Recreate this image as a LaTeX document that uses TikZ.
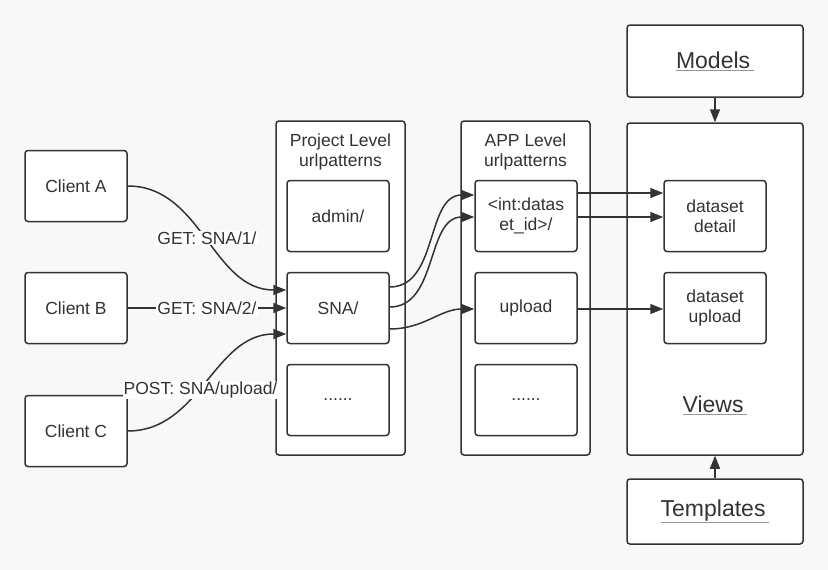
\documentclass[tikz,border=0pt]{standalone}
\usepackage{fontspec}
\setmainfont{Liberation Sans}
\usetikzlibrary{arrows.meta}
\definecolor{bgcol}{RGB}{248,248,248}
\definecolor{inkcol}{RGB}{51,51,51}
\definecolor{ulcol}{RGB}{150,150,150}
\newcommand{\ulword}[1]{{\color{ulcol}\underline{\color{inkcol}#1\,}}}
\begin{document}
\begin{tikzpicture}[x=1pt, y=-1pt,
  font=\fontsize{17.5}{20}\selectfont, text=inkcol,
  >={Triangle[length=13pt,width=10pt]},
  box/.style={draw=inkcol, line width=1.5pt, fill=white, rounded corners=3pt, align=center, minimum width=102pt, minimum height=71pt},
  frame/.style={box, minimum width=129pt, minimum height=334pt},
  big/.style={box, minimum width=176pt, font=\fontsize{23}{26}\selectfont},
  link/.style={->, draw=inkcol, line width=1.5pt},
  tag/.style={fill=white, inner sep=1pt}]
\fill[bgcol] (0,0) rectangle (828,570);
\useasboundingbox (0,0) rectangle (828,570);
% clients
\node[box] (ca) at (76,186) {Client A};
\node[box] (cb) at (76,308) {Client B};
\node[box] (cc) at (76,431) {Client C};
% project level
\node[frame] (proj) at (340.5,288) {};
\node[align=center] (ptitle) at (340.5,152) {Project Level\\urlpatterns};
\node[box] (admin) at (338,216) {admin/};
\node[box] (sna) at (338,308) {SNA/};
\node[box] (pdots) at (338,400) {......};
% app level
\node[frame] (app) at (525.5,288) {};
\node[align=center] (atitle) at (525.5,152) {APP Level\\urlpatterns};
\node[box] (dsid) at (526,216) {<int:datas\\et\_id>/};
\node[box] (upl) at (526,308) {upload};
\node[box] (adots) at (526,400) {......};
% views
\node[big, minimum height=332pt] (views) at (715,289) {};
\node[box] (detail) at (715,216) {dataset\\detail};
\node[box] (dupl) at (715,308) {dataset\\upload};
\node[font=\fontsize{23}{26}\selectfont] (vlabel) at (715,405) {\ulword{Views}};
\node[big, minimum height=72pt] (models) at (715,61) {\ulword{Models}};
\node[big, minimum height=65pt] (tmpl) at (715,511.5) {\ulword{Templates}};
% requests
\draw[link] (ca.east) to[out=0, in=180] node[tag] {GET: SNA/1/} ([yshift=18pt]sna.west);
\draw[link] (cb.east) -- node[tag] {GET: SNA/2/} (sna.west);
\draw[link] (cc.east) to[out=0, in=180] node[tag, pos=0.45] {POST: SNA/upload/} ([yshift=-26pt]sna.west);
\draw[link] ([yshift=21pt]sna.east) to[out=0, in=180] ([yshift=21pt]dsid.west);
\draw[link] ([yshift=1pt]sna.east) to[out=0, in=180] ([yshift=-1pt]dsid.west);
\draw[link] ([yshift=-21pt]sna.east) to[out=0, in=180] ([yshift=-1pt]upl.west);
\draw[link] ([yshift=23pt]dsid.east) -- ([yshift=23pt]detail.west);
\draw[link] ([yshift=-1pt]dsid.east) -- ([yshift=-1pt]detail.west);
\draw[link] ([yshift=-1pt]upl.east) -- ([yshift=-1pt]dupl.west);
\draw[link] (models) -- (views);
\draw[link] (tmpl) -- (views);
\end{tikzpicture}
\end{document}
